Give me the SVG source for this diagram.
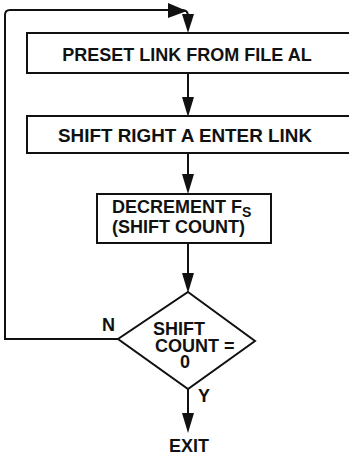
<svg xmlns="http://www.w3.org/2000/svg" width="349" height="456" viewBox="0 0 349 456">
<style>
.box{fill:#fff;stroke:#111;stroke-width:2}
.ln{fill:none;stroke:#111;stroke-width:2}
.ah{fill:#111;stroke:none}
text{font-family:"Liberation Sans",Arial,sans-serif;font-weight:bold;fill:#111;font-size:18px}
</style>
<defs>
<polygon id="down" class="ah" points="-6,-20 6,-20 0,0"/>
</defs>
<rect width="349" height="456" fill="#fff"/>
<g id="connectors">
<line class="ln" x1="188" y1="73" x2="188" y2="100"/>
<use href="#down" x="188" y="117"/>
<line class="ln" x1="188" y1="153" x2="188" y2="178"/>
<use href="#down" x="188" y="194"/>
<line class="ln" x1="188" y1="243" x2="188" y2="276"/>
<use href="#down" x="188" y="293"/>
<line class="ln" x1="188" y1="389" x2="188" y2="415"/>
<use href="#down" x="188" y="433"/>
<path class="ln" d="M118 339 H5 V15 Q5 10 10 10 H182 Q188 10 188 16 V20"/>
<polygon class="ah" points="168,3 187,11 168,18"/>
<polygon class="ah" points="182,14 194,14 188,33"/>
</g>
<g id="n1">
<rect class="box" x="27" y="33" width="340" height="40"/>
<text x="187" y="61" text-anchor="middle">PRESET LINK FROM FILE AL</text>
</g>
<g id="n2">
<rect class="box" x="27" y="116" width="340" height="37"/>
<text x="185" y="142" text-anchor="middle" textLength="254" lengthAdjust="spacingAndGlyphs">SHIFT RIGHT A ENTER LINK</text>
</g>
<g id="n3">
<rect class="box" x="97" y="194" width="174" height="49"/>
<text x="112" y="213" font-size="17">DECREMENT F<tspan font-size="14" dy="4">S</tspan></text>
<text x="112" y="233" font-size="17">(SHIFT COUNT)</text>
</g>
<g id="n4">
<polygon class="box" points="188,292 255,341 188,389 118,339"/>
<text x="153" y="335" font-size="17.5">SHIFT</text>
<text x="155" y="352" font-size="17">COUNT =</text>
<text x="185" y="368" text-anchor="middle" font-size="17.5">0</text>
</g>
<g id="labels">
<text x="102" y="331">N</text>
<text x="198" y="402">Y</text>
</g>
<g id="exit">
<text x="189" y="452" text-anchor="middle">EXIT</text>
</g>
</svg>
